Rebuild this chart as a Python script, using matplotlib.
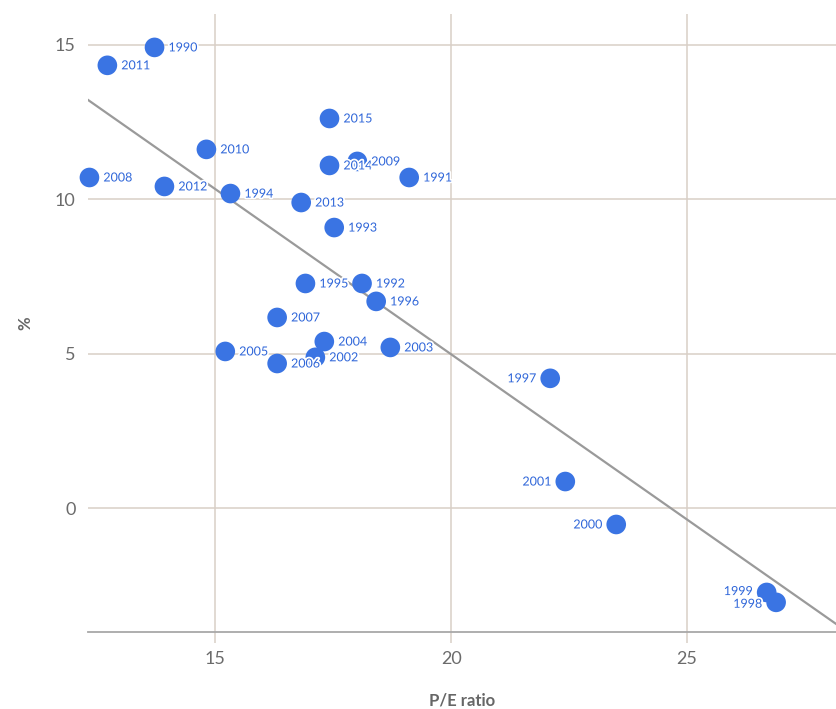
import numpy as np
import matplotlib
matplotlib.use('Agg')
import matplotlib.pyplot as plt
import matplotlib.patheffects as pe

plt.rcParams['font.family'] = ['Lato', 'DejaVu Sans']

# Dados: P/E ratio e retorno (%) por ano
years = ['1990', '2011', '2010', '2008', '2012', '1994', '2015', '2014', '2009', '1991',
         '2013', '1993', '1995', '1992', '1996', '2007', '2004', '2005', '2002', '2006',
         '2003', '1997', '2001', '2000', '1999', '1998']
pe_ratio = [13.71, 12.71, 14.81, 12.33, 13.92, 15.32, 17.42, 17.42, 18.01, 19.11,
            16.82, 17.52, 16.91, 18.11, 18.41, 16.31, 17.31, 15.21, 17.12, 16.31,
            18.71, 22.10, 22.42, 23.50, 26.69, 26.89]
returns = [14.92, 14.34, 11.62, 10.71, 10.42, 10.19, 12.62, 11.10, 11.23, 10.71,
           9.90, 9.09, 7.28, 7.28, 6.70, 6.18, 5.40, 5.08, 4.89, 4.69,
           5.21, 4.21, 0.87, -0.52, -2.72, -3.04]
left_labels = ['1997', '2001', '2000', '1999', '1998']

x_ticks = [15, 20, 25]
y_ticks = [0, 5, 10, 15]

point_color = '#3a74e3'
label_color = '#2f66d9'
grid_color = '#d8cfc6'

fig = plt.figure(figsize=(8.36, 7.09), dpi=100)
ax = fig.add_axes([0.1053, 0.1086, 0.8947, 0.8716])

ax.set_xlim(12.3, 28.16)
ax.set_ylim(-4, 16)

# linha de tendência (mínimos quadrados)
coef = np.polyfit(pe_ratio, returns, 1)
xs = np.array(ax.get_xlim())
ax.plot(xs, np.polyval(coef, xs), color='#9a9a9a', linewidth=1.6, zorder=2)

ax.scatter(pe_ratio, returns, s=200, color=point_color, edgecolors='none',
           zorder=3, clip_on=False)

halo = [pe.withStroke(linewidth=2.5, foreground='white')]
for yr, x, y in zip(years, pe_ratio, returns):
    if yr in left_labels:
        off, ha = -10, 'right'
    else:
        off, ha = 10, 'left'
    dy = 0
    if yr == '1999':
        dy = 1
    if yr == '1998':
        dy = -1
    ax.annotate(yr, xy=(x, y), xytext=(off, dy), textcoords='offset points',
                ha=ha, va='center', fontsize=9, color=label_color,
                path_effects=halo, zorder=4)

ax.set_xticks(x_ticks)
ax.set_yticks(y_ticks)
ax.grid(True, color=grid_color, linewidth=1.1, zorder=0)
ax.set_axisbelow(True)

for side in ['top', 'right', 'left']:
    ax.spines[side].set_visible(False)
ax.spines['bottom'].set_color('#a8a8a8')
ax.spines['bottom'].set_linewidth(1.3)

ax.tick_params(axis='x', length=8, color=grid_color, width=1.1, labelsize=13,
               labelcolor='#6b6b6b', pad=6)
ax.tick_params(axis='y', length=0, labelsize=13, labelcolor='#6b6b6b', pad=9)

ax.set_xlabel('P/E ratio', fontsize=12, fontweight='bold', color='#666666', labelpad=18)
ax.set_ylabel('%', fontsize=12, fontweight='bold', color='#666666', va='center')
ax.yaxis.set_label_coords(-0.084, 0.5)

plt.savefig('out.png', dpi=100)
plt.close()
